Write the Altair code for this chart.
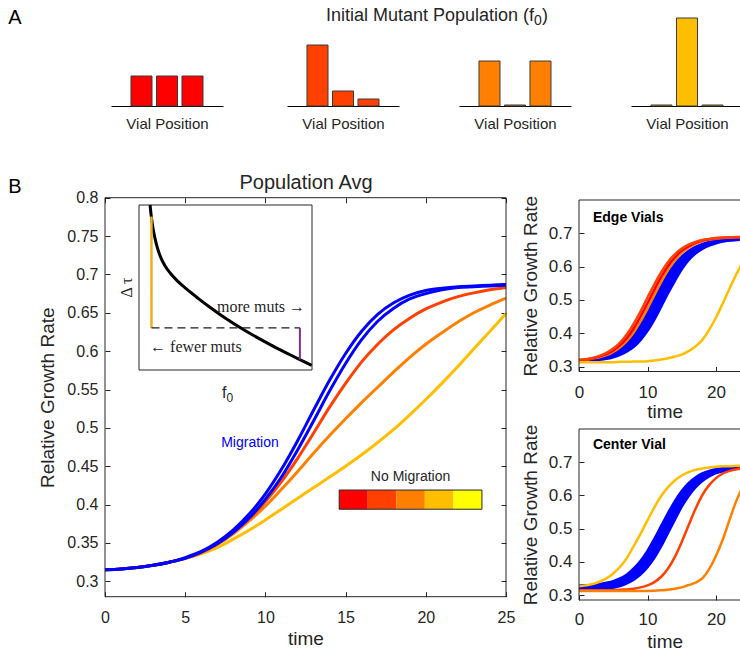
import altair as alt
import pandas as pd

# ---------------- data ----------------
VIAL_POSITIONS = ["1", "2", "3"]
F0_GROUP_1 = [30, 30, 30]
F0_GROUP_2 = [61, 15, 7]
F0_GROUP_3 = [45, 1, 45]
F0_GROUP_4 = [1, 88, 1]
F0_COLORS = ["#FF0000", "#FF4000", "#FF8000", "#FFBF00"]
NO_MIGRATION_COLORS = ["#FF0000", "#FF4000", "#FF8000", "#FFBF00", "#FFFF00"]
MIGRATION_COLOR = "#0000FF"

TIME = list(range(26))

MAIN_BLUE_A = [.315, .316, .318, .321, .325, .331, .339, .351, .367, .388, .414, .446, .483,
               .523, .562, .597, .626, .648, .663, .673, .679, .682, .684, .685, .686, .687]
MAIN_BLUE_B = [.315, .316, .318, .321, .325, .330, .338, .349, .364, .383, .407, .436, .471,
               .509, .548, .584, .615, .639, .656, .668, .675, .680, .683, .684, .685, .686]
MAIN_ORANGERED = [.315, .316, .318, .321, .325, .330, .338, .349, .364, .382, .404, .430, .460,
                  .493, .527, .558, .586, .609, .628, .643, .655, .664, .671, .676, .680, .683]
MAIN_ORANGE = [.315, .316, .318, .321, .325, .330, .337, .348, .362, .379, .398, .420, .443,
               .467, .490, .512, .533, .553, .573, .592, .609, .624, .638, .650, .660, .669]
MAIN_AMBER = [.315, .316, .318, .321, .325, .330, .336, .344, .355, .367, .380, .394, .408,
              .422, .436, .450, .465, .481, .498, .517, .537, .558, .580, .603, .626, .649]

EDGE_ORANGERED = [.320, .322, .326, .332, .341, .354, .372, .397, .429, .466, .507, .547, .583,
                  .614, .637, .654, .666, .674, .680, .683, .686, .687, .688, .689, .689, .689]
EDGE_RED = [.319, .321, .325, .330, .337, .348, .364, .386, .415, .451, .490, .531, .569,
            .602, .628, .648, .661, .671, .678, .682, .685, .687, .688, .688, .689, .689]
EDGE_ORANGE = [.318, .320, .324, .328, .334, .344, .358, .377, .403, .436, .474, .515, .554,
               .590, .619, .641, .657, .668, .676, .681, .684, .686, .687, .688, .689, .689]
EDGE_BLUE_A = [.318, .319, .322, .326, .331, .340, .352, .370, .394, .425, .462, .500, .541,
               .577, .607, .630, .647, .659, .668, .674, .678, .680, .682, .683, .684, .684]
EDGE_BLUE_B = [.317, .317, .318, .320, .323, .328, .335, .345, .359, .380, .407, .441, .480,
               .520, .557, .592, .619, .639, .653, .663, .670, .675, .678, .680, .682, .683]
EDGE_AMBER = [.313, .313, .313, .313, .313, .313, .314, .314, .315, .315, .316, .318, .321,
              .325, .330, .336, .346, .360, .380, .410, .447, .490, .535, .578, .617, .650]

CENTER_AMBER = [.326, .329, .333, .340, .350, .365, .385, .412, .448, .485, .525, .564, .598,
                .625, .645, .660, .670, .677, .681, .684, .686, .688, .688, .689, .689, .690]
CENTER_BLUE_A = [.328, .329, .330, .333, .337, .342, .350, .362, .380, .403, .433, .469, .508,
                 .547, .583, .613, .637, .654, .666, .674, .679, .682, .684, .685, .686, .686]
CENTER_BLUE_B = [.314, .315, .316, .317, .319, .322, .327, .335, .346, .362, .384, .412, .447,
                 .487, .527, .566, .598, .624, .643, .657, .667, .673, .677, .680, .682, .683]
CENTER_ORANGERED = [.314, .314, .314, .314, .314, .315, .316, .317, .319, .323, .329, .339, .355,
                    .380, .415, .460, .510, .559, .601, .631, .652, .666, .674, .679, .682, .684]
CENTER_ORANGE = [.312, .312, .312, .312, .312, .312, .312, .312, .312, .312, .312, .313, .314,
                 .316, .319, .323, .330, .337, .350, .378, .418, .468, .528, .585, .628, .656]

INSET_F0 = [0.064, 0.07, 0.08, 0.09, 0.102, 0.115, 0.13, 0.15, 0.18, 0.22, 0.276, 0.34,
            0.41, 0.5, 0.603, 0.7, 0.796, 0.87, 0.93, 0.998]
INSET_DTAU = [1.0, 0.94, 0.865, 0.81, 0.757, 0.712, 0.672, 0.632, 0.588, 0.542, 0.49, 0.436,
              0.38, 0.313, 0.245, 0.187, 0.133, 0.094, 0.063, 0.028]
INSET_FEW_F0 = 0.072
INSET_FEW_TOP = 0.93
INSET_MANY_F0 = 0.93
INSET_MANY_BOTTOM = 0.063
INSET_THRESHOLD = 0.255

MAIN_X_TICKS = [0, 5, 10, 15, 20, 25]
MAIN_Y_TICKS = [0.3, 0.35, 0.4, 0.45, 0.5, 0.55, 0.6, 0.65, 0.7, 0.75, 0.8]
SMALL_X_TICKS = [0, 10, 20]
SMALL_Y_TICKS = [0.3, 0.4, 0.5, 0.6, 0.7]

# ---------------- layout & style ----------------
W, H = 740, 653
SANS = "Liberation Sans"
SERIF = "Liberation Serif"
INK = "#262626"
TICK = 5

MAIN_X = (105, 506)
MAIN_Y = (596.7, 197.7)
MAIN_XD = [0, 25]
MAIN_YD = [0.28, 0.8]
INSET_X = (139, 312)
INSET_Y = (370, 205)
SMALL_X = (579, 750.25)
SMALL_XD = [0, 25]
SMALL_YD = [0.285, 0.8]
EDGE_Y = (371.5, 200)
CENTER_Y = (600, 429)
BAR_CENTERS = [167, 343, 515, 687]
BAR_HALF = 56
BAR_BASE = 106
BAR_TOP = 16


def sc(domain, rng):
    return alt.Scale(domain=domain, range=list(rng), nice=False, zero=False)


MAIN_XS = sc(MAIN_XD, MAIN_X)
MAIN_YS = sc(MAIN_YD, MAIN_Y)
INSET_XS = sc([0, 1], INSET_X)
INSET_YS = sc([0, 1], INSET_Y)
SMALL_XS = sc(SMALL_XD, SMALL_X)
EDGE_YS = sc(SMALL_YD, EDGE_Y)
CENTER_YS = sc(SMALL_YD, CENTER_Y)


def axis(orient, offset, values, labels=True, title=None, label_size=16,
         label_pad=7, title_pad=8, title_size=19, fmt=None):
    kw = dict(orient=orient, offset=offset, grid=False, domain=False, ticks=True,
              tickSize=TICK, tickColor=INK, tickWidth=1, labels=labels, values=values)
    if labels:
        kw.update(labelFont=SANS, labelFontSize=label_size, labelColor=INK,
                  labelPadding=label_pad, labelFlush=False, labelOverlap=False)
        if fmt:
            kw["format"] = fmt
    if title:
        kw.update(title=title, titleFont=SANS, titleFontSize=title_size,
                  titleFontWeight="normal", titleColor=INK, titlePadding=title_pad)
    else:
        kw["title"] = None
    return alt.Axis(**kw)


def line(t, v, color, xs, ys, width, xaxis=None, yaxis=None, dash=None):
    df = pd.DataFrame({"t": t, "v": v})
    mk = dict(color=color, strokeWidth=width, interpolate="monotone")
    if dash:
        mk["strokeDash"] = dash
    return alt.Chart(df).mark_line(**mk).encode(
        x=alt.X("t:Q", scale=xs, axis=xaxis),
        y=alt.Y("v:Q", scale=ys, axis=yaxis),
    )


def band(t, upper, lower, color, xs, ys):
    df = pd.DataFrame({"t": t, "u": upper, "l": lower})
    return alt.Chart(df).mark_area(color=color, opacity=1, interpolate="monotone").encode(
        x=alt.X("t:Q", scale=xs, axis=None),
        y=alt.Y("u:Q", scale=ys, axis=None),
        y2="l:Q",
    )


def frame(xd, yd, xs, ys, fill=None, xaxis=None, yaxis=None):
    df = pd.DataFrame({"x0": [xd[0]], "x1": [xd[1]], "y0": [yd[0]], "y1": [yd[1]]})
    mk = dict(stroke=INK, strokeWidth=1)
    if fill:
        mk["fill"] = fill
    else:
        mk["fillOpacity"] = 0
    return alt.Chart(df).mark_rect(**mk).encode(
        x=alt.X("x0:Q", scale=xs, axis=xaxis), x2="x1:Q",
        y=alt.Y("y0:Q", scale=ys, axis=yaxis), y2="y1:Q",
    )


def text(label, x, y, xs, ys, **mk):
    df = pd.DataFrame({"tx": [x], "ty": [y], "label": [label]})
    return alt.Chart(df).mark_text(**mk).encode(
        x=alt.X("tx:Q", scale=xs, axis=None),
        y=alt.Y("ty:Q", scale=ys, axis=None),
        text="label:N",
    )


layers = []

# ---------------- panel A: initial mutant population ----------------
for vals, color, cx in zip([F0_GROUP_1, F0_GROUP_2, F0_GROUP_3, F0_GROUP_4], F0_COLORS, BAR_CENTERS):
    df = pd.DataFrame({"pos": VIAL_POSITIONS, "f0": vals})
    xs = alt.Scale(domain=VIAL_POSITIONS, range=[cx - BAR_HALF, cx + BAR_HALF],
                   paddingInner=0.176, paddingOuter=0.784)
    ys = alt.Scale(domain=[0, 90], range=[BAR_BASE, BAR_TOP], nice=False, zero=False)
    layers.append(
        alt.Chart(df).mark_bar(color=color, stroke="#3a3a3a", strokeWidth=1).encode(
            x=alt.X("pos:N", scale=xs, axis=alt.Axis(
                orient="bottom", offset=BAR_BASE - H, ticks=False, labels=False, domain=True,
                domainColor="#000000", domainWidth=1.2, grid=False, title="Vial Position",
                titleFont=SANS, titleFontSize=15, titleFontWeight="normal", titleColor=INK,
                titlePadding=10.5)),
            y=alt.Y("f0:Q", scale=ys, axis=None),
            y2=alt.datum(0),
        )
    )

# ---------------- panel B main: population average ----------------
main_bottom = axis("bottom", MAIN_Y[0] - TICK - H, MAIN_X_TICKS, title="time",
                   label_pad=13, title_pad=4)
main_left = axis("left", -(MAIN_X[0] + TICK), MAIN_Y_TICKS, title="Relative Growth Rate",
                 label_pad=7, title_pad=9, fmt="~g")
main_top = axis("top", -(MAIN_Y[1] + TICK), MAIN_X_TICKS, labels=False,
                title="Population Avg", title_pad=5, title_size=20)
main_right = axis("right", (MAIN_X[1] - TICK) - W, MAIN_Y_TICKS, labels=False)

layers.append(line(TIME, MAIN_AMBER, F0_COLORS[3], MAIN_XS, MAIN_YS, 3, main_bottom, main_left))
layers.append(line(TIME, MAIN_ORANGE, F0_COLORS[2], MAIN_XS, MAIN_YS, 3))
layers.append(line(TIME, MAIN_ORANGERED, F0_COLORS[1], MAIN_XS, MAIN_YS, 3))
layers.append(line(TIME, MAIN_BLUE_B, MIGRATION_COLOR, MAIN_XS, MAIN_YS, 3))
layers.append(line(TIME, MAIN_BLUE_A, MIGRATION_COLOR, MAIN_XS, MAIN_YS, 3))
layers.append(frame(MAIN_XD, MAIN_YD, MAIN_XS, MAIN_YS,
                    xaxis=main_top, yaxis=main_right))

# colour bar legend (No Migration)
CBAR_EDGES_T = [14.6, 16.38, 18.16, 19.94, 21.72, 23.5]
CBAR_V = (0.394, 0.419)
cbar = pd.DataFrame({
    "x0": CBAR_EDGES_T[:-1], "x1": CBAR_EDGES_T[1:],
    "y0": [CBAR_V[0]] * 5, "y1": [CBAR_V[1]] * 5, "c": NO_MIGRATION_COLORS,
})
layers.append(alt.Chart(cbar).mark_rect().encode(
    x=alt.X("x0:Q", scale=MAIN_XS, axis=None), x2="x1:Q",
    y=alt.Y("y0:Q", scale=MAIN_YS, axis=None), y2="y1:Q",
    color=alt.Color("c:N", scale=None),
))
layers.append(frame([CBAR_EDGES_T[0], CBAR_EDGES_T[-1]], list(CBAR_V), MAIN_XS, MAIN_YS))
layers.append(text("No Migration", 19.05, 0.436, MAIN_XS, MAIN_YS, font=SANS, fontSize=14,
                   color=INK, align="center", baseline="middle"))
layers.append(text("Migration", 9.04, 0.48, MAIN_XS, MAIN_YS, font=SANS, fontSize=14,
                   color=MIGRATION_COLOR, align="center", baseline="middle"))

# ---------------- inset ----------------
layers.append(frame([0, 1], [0, 1], INSET_XS, INSET_YS, fill="#ffffff"))
layers.append(line(INSET_F0, INSET_DTAU, "#000000", INSET_XS, INSET_YS, 3))
layers.append(line([INSET_FEW_F0, INSET_FEW_F0], [INSET_THRESHOLD, INSET_FEW_TOP],
                   "#EDB120", INSET_XS, INSET_YS, 2.5))
layers.append(line([INSET_FEW_F0, INSET_MANY_F0], [INSET_THRESHOLD, INSET_THRESHOLD],
                   "#1a1a1a", INSET_XS, INSET_YS, 1.2, dash=[8, 5]))
layers.append(line([INSET_MANY_F0, INSET_MANY_F0], [INSET_MANY_BOTTOM, INSET_THRESHOLD],
                   "#7E2F8E", INSET_XS, INSET_YS, 2))
layers.append(text("more muts \u2192", 0.96, 0.382, INSET_XS, INSET_YS, font=SERIF,
                   fontSize=16, color=INK, align="right", baseline="middle"))
layers.append(text("\u2190 fewer muts", 0.064, 0.139, INSET_XS, INSET_YS, font=SERIF,
                   fontSize=16, color=INK, align="left", baseline="middle"))
layers.append(text("\u0394 \u03c4", -0.07, 0.5, INSET_XS, INSET_YS, font=SERIF, fontSize=16,
                   color=INK, align="center", baseline="middle", angle=270))
layers.append(text("f", 0.5, -0.14, INSET_XS, INSET_YS, font=SANS, fontSize=16,
                   color=INK, align="right", baseline="middle", dx=1))
layers.append(text("0", 0.5, -0.14, INSET_XS, INSET_YS, font=SANS, fontSize=12,
                   color=INK, align="left", baseline="middle", dx=1, dy=5))

# ---------------- right panels ----------------
def small_panel(ys, yr, blue_a, blue_b, colored, label, label_y, label_pad, title_pad):
    out = []
    bottom = axis("bottom", yr[0] - TICK - H, SMALL_X_TICKS, title="time", label_size=17,
                  label_pad=label_pad, title_pad=title_pad)
    left = axis("left", -(SMALL_X[0] + TICK), SMALL_Y_TICKS, title="Relative Growth Rate",
                label_size=17, label_pad=7, title_pad=8, fmt="~g")
    out.append(band(TIME, blue_a, blue_b, MIGRATION_COLOR, SMALL_XS, ys))
    out.append(line(TIME, blue_a, MIGRATION_COLOR, SMALL_XS, ys, 2.5, bottom, left))
    out.append(line(TIME, blue_b, MIGRATION_COLOR, SMALL_XS, ys, 2.5))
    for vals, color in colored:
        out.append(line(TIME, vals, color, SMALL_XS, ys, 2.5))
    out.append(frame(SMALL_XD, SMALL_YD, SMALL_XS, ys))
    out.append(text(label, 2.04, label_y, SMALL_XS, ys, font=SANS, fontSize=14,
                    fontWeight="bold", color="#000000", align="left", baseline="middle"))
    return out


layers += small_panel(EDGE_YS, EDGE_Y, EDGE_BLUE_A, EDGE_BLUE_B,
                      [(EDGE_ORANGE, F0_COLORS[2]), (EDGE_RED, F0_COLORS[0]),
                       (EDGE_ORANGERED, F0_COLORS[1]), (EDGE_AMBER, F0_COLORS[3])],
                      "Edge Vials", 0.746, 12.8, 2)
layers += small_panel(CENTER_YS, CENTER_Y, CENTER_BLUE_A, CENTER_BLUE_B,
                      [(CENTER_ORANGERED, F0_COLORS[1]), (CENTER_ORANGE, F0_COLORS[2]),
                       (CENTER_AMBER, F0_COLORS[3])],
                      "Center Vial", 0.752, 11.6, 4.4)

# ---------------- panel letters & row title ----------------
layers.append(text("A", -5.61, 1.034, MAIN_XS, MAIN_YS, font=SANS, fontSize=20,
                   color="#000000", align="center", baseline="middle"))
layers.append(text("B", -5.61, 0.814, MAIN_XS, MAIN_YS, font=SANS, fontSize=20,
                   color="#000000", align="center", baseline="middle"))
TITLE_T = 26.75  # where the subscript of "(f0)" starts, in main time units
layers.append(text("Initial Mutant Population (f", TITLE_T, 1.037, MAIN_XS, MAIN_YS,
                   font=SANS, fontSize=18, color=INK, align="right", baseline="middle"))
layers.append(text("0", TITLE_T, 1.037, MAIN_XS, MAIN_YS, font=SANS, fontSize=14,
                   color=INK, align="left", baseline="middle", dy=5))
layers.append(text(")", TITLE_T, 1.037, MAIN_XS, MAIN_YS, font=SANS, fontSize=18,
                   color=INK, align="left", baseline="middle", dx=8))

chart = (
    alt.layer(*layers)
    .resolve_scale(x="independent", y="independent")
    .properties(width=W, height=H, padding=0, autosize=alt.AutoSizeParams(type="none"))
    .configure_view(strokeWidth=0)
    .configure_axis(grid=False)
)

chart.save("out.html", embed_options={"renderer": "svg", "actions": False})
